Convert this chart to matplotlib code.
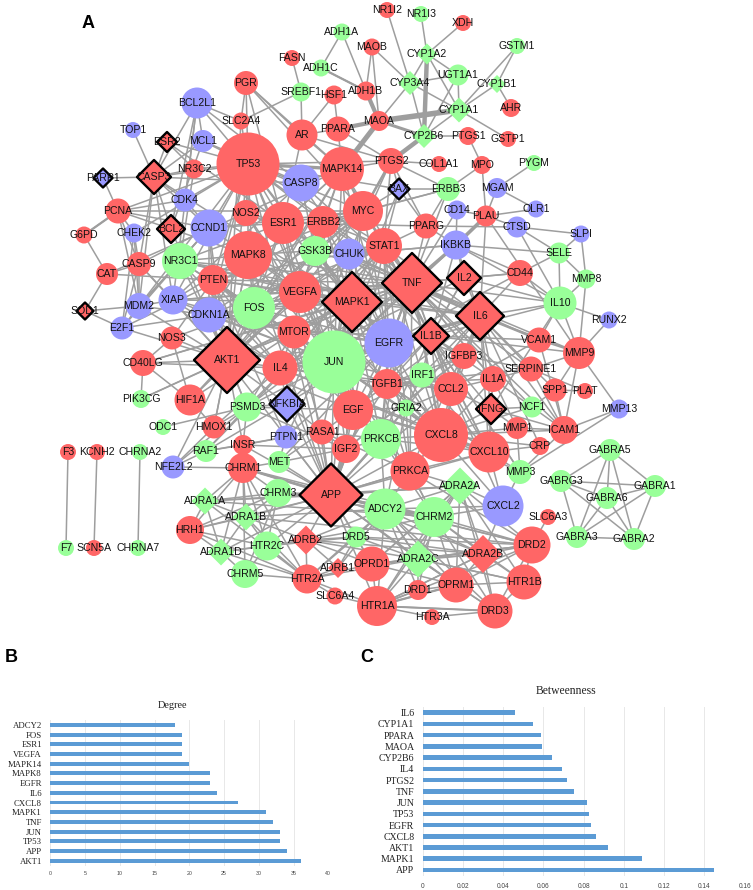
import numpy as np
import matplotlib
matplotlib.use("Agg")
import matplotlib.pyplot as plt

# --------------------------------------------------
# network nodes (pixel coords, size = width in px)
# --------------------------------------------------
red_names = ["MAOB", "FASN", "PGR", "HSF1", "ADH1B", "SLC2A4", "AR", "PPARA", "MAOA", "TP53", "MAPK14", "PTGS2",
             "NR3C2", "PCNA", "NOS2", "MYC", "ESR1", "ERBB2", "G6PD", "STAT1", "MAPK8", "CASP9", "CAT", "PTEN",
             "VEGFA", "NR1I2", "XDH", "AHR", "PTGS1", "GSTP1", "MPO", "COL1A1", "PLAU", "PPARG", "CD44", "NOS3",
             "MTOR", "CD40LG", "IL4", "HIF1A", "EGF", "TGFB1", "IGFBP3", "VCAM1", "MMP9", "IL1A", "SERPINE1", "CCL2",
             "SPP1", "PLAT", "MMP1", "ICAM1", "CXCL8", "CXCL10", "CRP", "PRKCA", "SLC6A3", "DRD2", "HTR1B", "OPRM1",
             "DRD1", "DRD3", "HTR1A", "HTR3A", "OPRD1", "HMOX1", "RASA1", "INSR", "IGF2", "CHRM1", "F3", "KCNH2",
             "SCN5A", "HRH1", "HTR2A", "SLC6A4"]
red_x = [372, 292, 246, 334, 366, 241, 302, 338, 379, 248, 342, 391,
         194, 118, 246, 363, 283, 323, 84, 384, 248, 139, 107, 213,
         300, 387, 463, 511, 468, 508, 482, 439, 486, 426, 520, 172,
         294, 143, 280, 190, 353, 387, 464, 539, 579, 493, 531, 451,
         555, 585, 517, 564, 441, 489, 540, 410, 548, 532, 524, 456,
         418, 495, 377, 432, 372, 214, 322, 243, 346, 243, 68, 97,
         94, 190, 307, 335]
red_y = [47, 58, 83, 95, 91, 121, 135, 129, 121, 164, 169, 161,
         169, 211, 213, 211, 223, 222, 235, 246, 255, 264, 274, 280,
         292, 10, 23, 108, 136, 139, 165, 164, 216, 226, 273, 338,
         332, 363, 368, 400, 410, 384, 356, 340, 353, 379, 369, 389,
         390, 391, 428, 430, 435, 452, 446, 471, 517, 545, 582, 585,
         590, 611, 606, 617, 564, 427, 432, 445, 449, 468, 452, 452,
         548, 530, 579, 596]
red_d = [17, 16, 24, 19, 19, 17, 31, 25, 20, 63, 44, 26,
         19, 25, 26, 40, 42, 32, 17, 36, 48, 24, 22, 30,
         42, 16, 16, 18, 18, 16, 18, 16, 21, 25, 26, 23,
         33, 26, 35, 31, 40, 30, 26, 25, 32, 26, 25, 34,
         23, 16, 22, 28, 54, 41, 18, 39, 16, 37, 35, 35,
         20, 35, 40, 16, 35, 23, 25, 20, 28, 30, 16, 16,
         16, 28, 29, 17]

green_names = ["ADH1A", "ADH1C", "SREBF1", "GSK3B", "NR3C1", "FOS", "NR1I3", "GSTM1", "UGT1A1", "PYGM", "ERBB3",
               "SELE", "MMP8", "IL10", "PIK3CG", "PSMD3", "IRF1", "GRIA2", "NCF1", "PRKCB", "MMP3", "GABRA5",
               "GABRA1", "GABRG3", "GABRA6", "ADCY2", "CHRM2", "GABRA3", "GABRA2", "ODC1", "RAF1", "MET", "CHRNA2",
               "F7", "CHRNA7", "CHRM3", "HTR2C", "DRD5", "CHRM5", "JUN"]
green_x = [342, 321, 301, 315, 180, 254, 421, 517, 458, 534, 448,
           559, 586, 560, 141, 247, 422, 406, 532, 381, 520, 610,
           655, 561, 607, 385, 434, 577, 634, 163, 206, 279, 140,
           66, 138, 278, 267, 356, 245, 334]
green_y = [32, 68, 92, 251, 261, 308, 14, 46, 75, 163, 189,
           253, 279, 303, 399, 407, 375, 408, 407, 439, 472, 450,
           486, 481, 498, 509, 517, 537, 539, 427, 451, 462, 452,
           548, 548, 493, 546, 537, 574, 362]
green_d = [17, 17, 19, 30, 36, 42, 16, 16, 21, 16, 24,
           21, 19, 33, 18, 29, 25, 17, 21, 40, 24, 22,
           22, 22, 22, 41, 40, 22, 22, 16, 22, 22, 16,
           16, 16, 28, 29, 21, 28, 63]

blue_names = ["BCL2L1", "TOP1", "MCL1", "CASP8", "CDK4", "CCND1", "CHEK2", "CHUK", "XIAP", "MDM2", "CDKN1A",
              "MGAM", "OLR1", "CD14", "CTSD", "SLPI", "IKBKB", "RUNX2", "E2F1", "EGFR", "MMP13", "CXCL2",
              "PTPN1", "NFE2L2"]
blue_x = [197, 133, 203, 301, 185, 209, 134, 349, 173, 139, 209,
          497, 536, 457, 517, 581, 456, 609, 122, 389, 619, 503,
          286, 173]
blue_y = [103, 130, 141, 183, 200, 228, 233, 254, 300, 306, 315,
          188, 209, 210, 227, 234, 245, 320, 328, 343, 409, 506,
          437, 467]
blue_d = [31, 16, 22, 37, 23, 37, 19, 31, 29, 26, 35,
          20, 17, 19, 21, 17, 29, 17, 23, 49, 19, 41,
          23, 23]

green_diamond_names = ["CYP1A2", "CYP1B1", "CYP3A4", "CYP1A1", "CYP2B6", "ADRA2A", "ADRA2C", "ADRA1A", "ADRA1B", "ADRA1D"]
green_diamond_x = [427, 497, 410, 459, 424, 460, 418, 205, 246, 221]
green_diamond_y = [54, 84, 83, 110, 136, 486, 559, 501, 517, 552]
green_diamond_d = [21, 18, 24, 25, 24, 37, 37, 27, 27, 27]

red_diamond_names = ["ADRA2B", "ADRB2", "ADRB1"]
red_diamond_x = [483, 306, 338]
red_diamond_y = [554, 540, 568]
red_diamond_d = [38, 29, 20]

# outlined diamonds
hub_names = ["ESR2", "CASP3", "BCL2", "MAPK1", "SOD1", "TNF", "IL2", "IL6", "AKT1", "IL1B", "IFNG", "APP"]
hub_x = [167, 154, 171, 352, 85, 412, 464, 480, 227, 431, 491, 331]
hub_y = [142, 177, 229, 302, 311, 283, 278, 316, 360, 336, 409, 495]
hub_d = [20, 34, 28, 60, 17, 60, 34, 48, 66, 36, 30, 63]

blue_hub_names = ["PARP1", "BAX", "NFKBIA"]
blue_hub_x = [103, 399, 287]
blue_hub_y = [178, 189, 404]
blue_hub_d = [19, 21, 35]

# --------------------------------------------------
# network edges: node -> partners
# --------------------------------------------------
periphery_edges = {
    "ADH1A": "ADH1C ADH1B",
    "ADH1C": "ADH1B",
    "FASN": "SREBF1",
    "SREBF1": "AR SLC2A4",
    "MAOB": "MAOA CYP3A4 ADH1B",
    "HSF1": "PPARA AR",
    "PGR": "TP53 AR SLC2A4 MAPK14 ESR1 MYC",
    "BCL2L1": "TP53 MCL1 CASP3 CASP8 BCL2 SLC2A4 CDK4 XIAP",
    "MCL1": "TP53 CASP3 BCL2",
    "SLC2A4": "TP53 AKT1",
    "TOP1": "CASP3",
    "ESR2": "NR3C2 CASP3 ESR1 TP53",
    "PARP1": "CASP3 PCNA",
    "CASP3": "TP53 NR3C2 CASP8 CASP9 CDK4 MDM2 XIAP MAPK1 BCL2 CCND1",
    "NR3C2": "NR3C1 TP53",
    "PCNA": "G6PD CHEK2 TP53 MDM2 CCND1 CDK4 MAPK8 CASP9 MYC",
    "G6PD": "CAT",
    "CAT": "SOD1 CASP9 NOS2 PTEN",
    "SOD1": "E2F1 MDM2",
    "CHEK2": "CASP9 TP53 MDM2 E2F1",
    "CASP9": "XIAP MDM2 AKT1 E2F1 CCND1",
    "E2F1": "MDM2 CDKN1A AKT1 CCND1 MYC",
    "MDM2": "XIAP CDKN1A TP53 AKT1 NR3C1",
    "NOS3": "AKT1 VEGFA CD40LG HIF1A PTEN",
    "CD40LG": "PIK3CG AKT1 TNF IL4 HIF1A MAPK1",
    "PIK3CG": "AKT1 MAPK1",
    "ODC1": "PSMD3",
    "HMOX1": "NFE2L2 PSMD3 AKT1 IL4 HIF1A MAPK8",
    "NFE2L2": "RAF1 CHRM1 PSMD3 AKT1",
    "RAF1": "PTPN1 MAPK1 INSR PSMD3 EGFR",
    "INSR": "PTPN1 APP AKT1 IGF2 PSMD3",
    "MET": "APP IGF2 EGFR CHRM1",
    "CHRM1": "CHRM3 ADRA1A ADRA1B ADRA1D HRH1 HTR2C HTR2A APP CHRM5",
    "CHRM3": "APP ADRA1A ADRA1B HRH1 HTR2C CHRM5",
    "ADRA1A": "APP ADRA1B ADRA1D HRH1 HTR2A",
    "ADRA1B": "APP ADRA1D HRH1 HTR2C HTR2A ADRB2",
    "ADRA1D": "HRH1 HTR2C CHRM5 HTR2A ADRB2",
    "HRH1": "APP HTR2C HTR2A",
    "HTR2C": "APP ADRB2 DRD5 HTR2A CHRM5",
    "CHRM5": "HTR2A",
    "HTR2A": "ADRB2 ADRB1 SLC6A4 HTR1A DRD5 OPRD1",
    "ADRB2": "APP DRD5 ADRB1 ADCY2 OPRD1",
    "ADRB1": "DRD5 ADCY2",
    "SLC6A4": "HTR1A",
    "DRD5": "APP ADCY2 OPRD1",
    "OPRD1": "APP OPRM1 HTR1A ADRA2A ADRA2C ADRA2B DRD2",
    "HTR1A": "HTR3A DRD3 DRD1 OPRM1 ADRA2C ADRA2B",
    "HTR3A": "DRD3",
    "DRD3": "OPRM1 HTR1B ADRA2B DRD2 ADRA2C",
    "DRD1": "OPRM1 ADRA2C ADCY2",
    "OPRM1": "ADRA2C ADRA2B HTR1B DRD2",
    "HTR1B": "ADRA2B DRD2 ADRA2C",
    "ADRA2B": "ADRA2C DRD2 CHRM2 CXCL2 ADRA2A",
    "ADRA2C": "CHRM2 ADCY2 ADRA2A APP DRD2",
    "ADRA2A": "CHRM2 CXCL2 ADCY2 APP DRD2",
    "CHRM2": "APP ADCY2 CXCL2 DRD2 PRKCA",
    "ADCY2": "APP PRKCA PRKCB",
    "SLC6A3": "DRD2",
    "CXCL2": "CXCL10 CXCL8 MMP3",
    "MMP3": "MMP13 CXCL8 MMP1 IL1B CXCL10 ICAM1",
    "MMP13": "MMP9 ICAM1",
    "RUNX2": "MMP9 IL10",
    "MMP9": "IL10 VCAM1 SERPINE1 SPP1 ICAM1 TNF IL6 MMP8 IL1B PLAU",
    "VCAM1": "IL6 TNF IL1B IL10 ICAM1 CCL2",
    "SERPINE1": "PLAT IL6 IL1A TNF ICAM1 TGFB1",
    "PLAT": "SPP1",
    "SPP1": "IL6 ICAM1 NCF1",
    "ICAM1": "IL1A IFNG MMP1 CXCL8 IL6 TNF",
    "MMP1": "IL1A CXCL8 IFNG",
    "CRP": "CXCL8 IL6 CXCL10",
    "NCF1": "IFNG CXCL8 TNF",
    "IFNG": "IL1A CCL2 CXCL8 CXCL10 IL6 IL10",
    "IL1A": "CCL2 IL6 TNF CXCL8",
    "IL10": "SELE CTSD MMP8 IL6 TNF IKBKB CD44 IL1B",
    "SELE": "CTSD SLPI MMP8 CD44 IKBKB",
    "SLPI": "CTSD MMP8",
    "CTSD": "PPARG PLAU",
    "PLAU": "OLR1 MGAM IKBKB CD14 IL6 MPO",
    "MGAM": "PYGM OLR1",
    "MPO": "ERBB3 PTGS1",
    "ERBB3": "ERBB2 PPARG EGFR BAX MYC",
    "CD14": "IKBKB TNF",
    "IKBKB": "PPARG TNF CHUK IL2 CD44 IL6 IL1B",
    "CD44": "IL2 TNF IL6 EGFR",
    "IL2": "TNF IL6 IL4 IL1B IL10",
    "PPARG": "PTGS2 TNF STAT1 ESR1 BAX",
    "BAX": "PTGS2 TP53 MYC MAPK1 STAT1",
    "COL1A1": "PTGS2",
    "PTGS1": "CYP2B6",
    "GSTP1": "CYP1A1",
    "AHR": "CYP1B1",
    "CYP1B1": "CYP1A1 GSTM1",
    "GSTM1": "CYP1A1",
    "UGT1A1": "CYP1A1 CYP1A2 CYP3A4 CYP2B6",
    "NR1I2": "CYP3A4",
    "NR1I3": "CYP1A2",
    "XDH": "CYP1A2",
    "CYP1A2": "CYP3A4 CYP1A1",
    "CYP3A4": "CYP1A1 CYP2B6 MAOA",
    "CYP1A1": "CYP2B6",
    "F3": "F7",
    "KCNH2": "SCN5A",
    "CHRNA2": "CHRNA7",
    "GABRA5": "GABRA1 GABRG3 GABRA6 GABRA3 GABRA2",
    "GABRA1": "GABRG3 GABRA6 GABRA3 GABRA2",
    "GABRG3": "GABRA6 GABRA3 GABRA2",
    "GABRA6": "GABRA3 GABRA2",
    "GABRA3": "GABRA2",
}

hub_edges = {
    "AKT1": "TP53 APP TNF MAPK1 EGFR VEGFA MTOR IL4 PTEN XIAP CDKN1A NFKBIA PSMD3 CHUK CCND1 BCL2 MAPK8 ESR1 FOS NR3C1 EGF MYC MAPK14 HIF1A GSK3B",
    "APP": "TP53 JUN TNF MAPK1 MAPK8 ESR1 EGFR CXCL8 PRKCA PRKCB IGF2 EGF IL4 NFKBIA PTPN1 RASA1 CCL2",
    "TP53": "JUN MAPK1 EGFR CASP8 MAPK14 MYC MAPK8 ESR1 ERBB2 NOS2 CCND1 CDK4 STAT1 VEGFA FOS PTEN TNF CDKN1A XIAP",
    "JUN": "TNF MAPK1 EGFR CXCL8 IL6 FOS ESR1 VEGFA MYC STAT1 MAPK8 MAPK14 EGF PRKCB PRKCA MTOR IL4 CCL2 IL1B TGFB1",
    "TNF": "MAPK1 EGFR CXCL8 IL6 IL1B VEGFA MYC STAT1 MAPK14 MAPK8 IL4 CCL2 CASP8 CHUK TGFB1 IL1A FOS",
    "MAPK1": "EGFR CXCL8 IL6 VEGFA MYC STAT1 MAPK14 MAPK8 ESR1 FOS MTOR EGF ERBB2 GSK3B CHUK PTEN",
    "CXCL8": "EGFR IL6 IL1B CXCL10 CCL2 EGF TGFB1 IL4 PRKCA PRKCB VEGFA IRF1 IGFBP3",
    "IL6": "EGFR IL1B CXCL10 CCL2 STAT1 VEGFA TGFB1 IL4 IGFBP3 IRF1",
    "EGFR": "VEGFA MYC STAT1 MAPK14 MAPK8 ERBB2 EGF PRKCA PRKCB TGFB1 ESR1 FOS",
    "MAPK8": "MAPK14 ESR1 MYC FOS VEGFA STAT1 XIAP CDKN1A NR3C1 CCND1 PTEN",
    "MAPK14": "MYC ESR1 ERBB2 CASP8 PPARA AR STAT1 FOS VEGFA PTGS2",
    "VEGFA": "FOS MYC ESR1 STAT1 PTEN MTOR HIF1A EGF",
    "ESR1": "FOS MYC ERBB2 NOS2 NR3C1 CCND1 AR",
    "FOS": "MYC STAT1 NR3C1 PTEN CDKN1A",
    "MYC": "STAT1 ERBB2 CCND1 CDKN1A PTGS2",
    "PTGS2": "STAT1 ERBB3 PPARA AR TP53 CHUK",
    "CCND1": "CDK4 CDKN1A MDM2 NR3C1 PTEN",
    "IL1B": "CCL2 IL4 TGFB1 CXCL10 IGFBP3",
    "EGF": "PRKCA PRKCB IGF2 TGFB1 RASA1",
    "PRKCA": "PRKCB GRIA2 CXCL8 RASA1",
    "CCL2": "CXCL10 TGFB1 IL4 IRF1",
    "IL4": "NFKBIA STAT1 MTOR TGFB1",
    "NFKBIA": "CHUK IKBKB PSMD3 RASA1 PTPN1",
    "GSK3B": "CHUK CASP8 MYC",
    "CASP8": "CHUK XIAP MCL1",
    "PPARA": "AR",
}

# extra links that fill the crowded middle and the receptor cluster
core_edges = {
    "MTOR": "EGF PSMD3 HIF1A IL1B TNF STAT1 EGFR PTPN1 RASA1",
    "PTEN": "TNF EGF IL4 STAT1 JUN CXCL8 PTPN1",
    "CDKN1A": "JUN MAPK1 TNF EGFR IL4 MTOR PSMD3 STAT1",
    "XIAP": "MAPK1 TNF JUN IL4 VEGFA MTOR",
    "NR3C1": "TNF IL6 MAPK1 JUN VEGFA IL4",
    "STAT1": "CCL2 IL1B IRF1 TGFB1 IL4 CXCL10 EGF GRIA2",
    "IL1B": "IL2 IL1A IFNG EGF IRF1 STAT1 MMP3",
    "TGFB1": "IGFBP3 IRF1 GRIA2 IGF2 VEGFA IL1A CXCL10 PRKCB",
    "IGFBP3": "IGF2 EGF CCL2 SERPINE1 VEGFA",
    "GRIA2": "CXCL8 CCL2 IRF1 EGF APP ADCY2",
    "PRKCB": "APP TNF IL6 IL1B RASA1 IGF2 MAPK1 CHRM2 CXCL10",
    "PRKCA": "APP TNF IL6 MAPK1 CHRM2 ADRA2A CXCL10",
    "RASA1": "IGF2 MAPK1 PTPN1 MET",
    "IGF2": "MAPK1 IGFBP3 PSMD3 JUN",
    "PTPN1": "EGFR MAPK1 MET",
    "PSMD3": "JUN MAPK1 TNF EGF",
    "CHUK": "IKBKB JUN IL6 EGFR IL1B",
    "GSK3B": "JUN EGFR TNF VEGFA FOS",
    "ERBB2": "STAT1 MAPK1 JUN TNF FOS VEGFA",
    "NOS2": "TNF VEGFA JUN IL6 MAPK14",
    "CXCL10": "IL4 EGF IRF1 TGFB1 IL1A",
    "APP": "CHRM2 ADCY2 ADRA2A ADRA2C OPRM1 ADRA2B DRD2 HTR1A ADRA1D CXCL10",
    "ADCY2": "CHRM1 CHRM3 OPRM1 ADRA2B ADRA2C HTR1A DRD2 DRD3 HTR2A ADRA1B",
    "CHRM2": "CHRM1 CHRM3 OPRM1 HTR1A HTR1B DRD3 ADRA1A DRD1 ADRB2",
    "DRD2": "HTR1A DRD5 PRKCA ADRA1B OPRD1",
    "ADRA2A": "HTR1A OPRM1 HTR1B DRD3 ADRA1A OPRD1",
    "ADRA2C": "HTR1B DRD5 ADRB2 HTR2A",
    "ADRA2B": "HTR1A DRD5 ADRB2",
    "CXCL2": "ADCY2 CCL2",
}

# the few heavy edges and their widths
heavy_edges = [("MAOA", "CYP1A1", 4.0), ("CYP1A2", "CYP2B6", 3.2), ("MAOA", "MAPK14", 3.6), ("ADH1B", "MAOA", 3.0),
               ("PPARA", "MAOA", 3.0), ("CYP2B6", "PTGS2", 3.2), ("CYP2B6", "MAOA", 2.2), ("PLAU", "IKBKB", 2.6),
               ("ADH1C", "ADH1B", 1.6), ("IKBKB", "TNF", 2.4), ("G6PD", "PCNA", 1.6), ("PTGS2", "MYC", 1.8),
               ("TP53", "MAPK14", 2.4), ("APP", "CHRM3", 1.8), ("JUN", "MAPK1", 2.2), ("APP", "IGF2", 2.4),
               ("CHRM1", "APP", 1.6), ("HTR1A", "OPRM1", 1.6), ("HTR1A", "DRD3", 1.4), ("TNF", "VEGFA", 1.8),
               ("TNF", "CXCL8", 1.8), ("EGFR", "IL6", 1.8), ("JUN", "CXCL8", 1.8), ("APP", "TNF", 1.6)]

# --------------------------------------------------
# bar chart values (bottom bar first)
# --------------------------------------------------
degree_genes = ["AKT1", "APP", "TP53", "JUN", "TNF", "MAPK1", "CXCL8", "IL6", "EGFR", "MAPK8", "MAPK14", "VEGFA",
                "ESR1", "FOS", "ADCY2"]
degree_values = [36, 34, 33, 33, 32, 31, 27, 24, 23, 23, 20, 19, 19, 19, 18]

between_genes = ["APP", "MAPK1", "AKT1", "CXCL8", "EGFR", "TP53", "JUN", "TNF", "PTGS2", "IL4", "CYP2B6", "MAOA",
                 "PPARA", "CYP1A1", "IL6"]
between_values = [0.1447, 0.1092, 0.092, 0.086, 0.0835, 0.0827, 0.0817, 0.0753, 0.0717, 0.069, 0.0642, 0.0592,
                  0.0588, 0.055, 0.046]

RED = "#FF6666"
GREEN = "#99FF99"
BLUE = "#9999FF"
EDGE = "#9E9E9E"
BAR = "#5B9BD5"
GRID = "#E8E8E8"
W, H = 753, 890

plt.rcParams['font.family'] = ['Liberation Sans', 'DejaVu Sans']

fig = plt.figure(figsize=(W / 100, H / 100), dpi=100)
ax = fig.add_axes([0, 0, 1, 1])
ax.set_xlim(0, W)
ax.set_ylim(H, 0)
ax.axis("off")

# name -> position lookup for the edges
pos = {}
groups = [(red_names, red_x, red_y, red_d, RED, "o", False),
          (green_names, green_x, green_y, green_d, GREEN, "o", False),
          (blue_names, blue_x, blue_y, blue_d, BLUE, "o", False),
          (green_diamond_names, green_diamond_x, green_diamond_y, green_diamond_d, GREEN, "D", False),
          (red_diamond_names, red_diamond_x, red_diamond_y, red_diamond_d, RED, "D", False),
          (hub_names, hub_x, hub_y, hub_d, RED, "D", True),
          (blue_hub_names, blue_hub_x, blue_hub_y, blue_hub_d, BLUE, "D", True)]
for names, xs, ys, ds, col, mark, outlined in groups:
    for n, x, y in zip(names, xs, ys):
        pos[n] = (x, y)

for table in (periphery_edges, hub_edges, core_edges):
    for a, partners in table.items():
        for b in partners.split():
            ax.plot([pos[a][0], pos[b][0]], [pos[a][1], pos[b][1]], color=EDGE, lw=1.1, zorder=1,
                    solid_capstyle="butt")
for a, b, w in heavy_edges:
    ax.plot([pos[a][0], pos[b][0]], [pos[a][1], pos[b][1]], color=EDGE, lw=w, zorder=1, solid_capstyle="butt")

for names, xs, ys, ds, col, mark, outlined in groups:
    d_pt = np.array(ds) * 0.72
    sizes = d_pt ** 2 if mark == "o" else d_pt ** 2 / 2
    ax.scatter(xs, ys, s=sizes, c=col, marker=mark, linewidths=1.7 if outlined else 0,
               edgecolors="black" if outlined else "none", zorder=2)
    for n, x, y in zip(names, xs, ys):
        ax.text(x, y, n, fontsize=7.6, color="#111111", ha="center", va="center", zorder=3)

# panel letters
ax.text(88, 23, "A", fontsize=13, fontweight="bold", ha="center", va="center")
ax.text(11, 657, "B", fontsize=13, fontweight="bold", ha="center", va="center")
ax.text(367, 657, "C", fontsize=13, fontweight="bold", ha="center", va="center")


def bar_panel(box, genes, values, xmax, step, title, title_xy, title_size, tick_size, label_size, fmt, pad):
    left, top, right, bottom = box
    bx = fig.add_axes([left / W, 1 - bottom / H, (right - left) / W, (bottom - top) / H])
    bx.patch.set_alpha(0)
    bx.barh(np.arange(len(genes)), values, height=0.4, color=BAR, zorder=2)
    bx.set_xlim(0, xmax)
    bx.set_ylim(-0.5, len(genes) - 0.5)
    bx.set_yticks(np.arange(len(genes)))
    bx.set_yticklabels(genes, family=['Liberation Serif'], fontsize=label_size, color="#222222")
    ticks = np.arange(0, xmax + step / 2, step)
    bx.set_xticks(ticks)
    bx.set_xticklabels([fmt(t) for t in ticks], fontsize=tick_size, color="#444444")
    bx.tick_params(length=0, axis="both")
    bx.tick_params(axis="x", pad=pad)
    bx.tick_params(axis="y", pad=6)
    bx.grid(axis="x", color=GRID, lw=0.7, zorder=0)
    bx.set_axisbelow(True)
    for s in bx.spines.values():
        s.set_visible(False)
    ax.text(title_xy[0], title_xy[1], title, family=['Liberation Serif'], fontsize=title_size, color="#222222",
            ha="center", va="center")


bar_panel((50.3, 720, 328.3, 865.6), degree_genes, degree_values, 40, 5, "Degree", (172, 706),
          7.4, 3.8, 6.3, lambda t: f"{t:.0f}", 4)
bar_panel((422.7, 707, 744.7, 875.6), between_genes, between_values, 0.16, 0.02, "Betweenness", (566, 691),
          8.4, 4.7, 7.1, lambda t: f"{t:g}", 5)

fig.savefig("out.png", dpi=100)
